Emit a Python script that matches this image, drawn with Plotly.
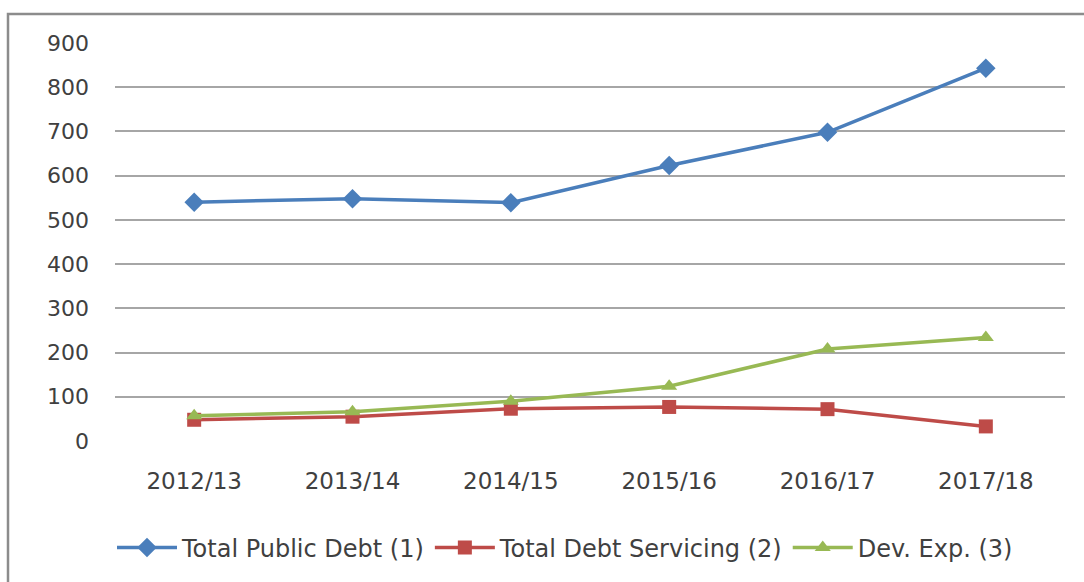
import plotly.graph_objects as go

years = ["2012/13", "2013/14", "2014/15", "2015/16", "2016/17", "2017/18"]
public_debt = [540, 548, 539, 623, 698, 843]
debt_servicing = [48, 55, 73, 77, 72, 33]
dev_exp = [57, 66, 90, 124, 208, 234]
y_ticks = [0, 100, 200, 300, 400, 500, 600, 700, 800, 900]

W, H = 1084, 582
L, R, T, B = 115, 19, 43, 141

fig = go.Figure()
series = [
    ("Total Public Debt (1)", public_debt, "#4A7EBB", "diamond", 15),
    ("Total Debt Servicing (2)", debt_servicing, "#BE4B48", "square", 14),
    ("Dev. Exp. (3)", dev_exp, "#98B954", "triangle-up", 14),
]
for name, vals, col, sym, sz in series:
    fig.add_trace(go.Scatter(
        x=years, y=vals, name=name, mode="lines+markers",
        line=dict(color=col, width=3.5),
        marker=dict(symbol=sym, size=sz, color=col),
    ))

pw, ph = W - L - R, H - T - B
def px_x(p):
    return (p - L) / pw
def px_y(p):
    return (H - B - p) / ph

# outer chart frame (open on the right and bottom edges)
fig.add_shape(type="rect", xref="paper", yref="paper",
              x0=px_x(8), x1=px_x(1100), y0=px_y(600), y1=px_y(14),
              line=dict(color="#8C8C8C", width=2.5), layer="below")

FONT = "DejaVu Sans"
fig.update_layout(
    width=W, height=H,
    margin=dict(l=L, r=R, t=T, b=B),
    paper_bgcolor="white", plot_bgcolor="white",
    font=dict(family=FONT, size=22, color="#404040"),
    showlegend=True,
    legend=dict(orientation="h", x=px_x(112), xanchor="left",
                y=px_y(548), yanchor="middle", itemwidth=60,
                font=dict(family=FONT, size=24, color="#404040"),
                traceorder="normal"),
    xaxis=dict(range=[-0.5, 5.5], showgrid=False, showline=False, ticks="",
               ticklabelstandoff=24, tickfont=dict(size=23)),
    yaxis=dict(range=[0, 900], tickvals=y_ticks, showgrid=True,
               gridcolor="#A6A6A6", gridwidth=1.5, zeroline=False,
               showline=False, ticks="", ticklabelstandoff=25,
               tickfont=dict(size=22)),
)

fig.write_html("out.html")
